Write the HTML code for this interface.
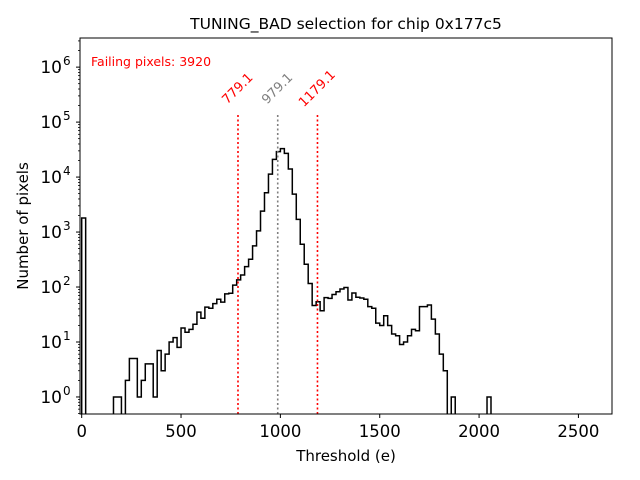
<!DOCTYPE html>
<html><head><meta charset="utf-8"><style>
body{margin:0;background:#fff}
svg{display:block;font-family:"DejaVu Sans","Liberation Sans",sans-serif}
</style></head><body>
<svg id="chart" width="640" height="480" xmlns="http://www.w3.org/2000/svg">
<rect width="640" height="480" fill="#fff"/>
<text x="346" y="29" text-anchor="middle" font-size="15.5">TUNING_BAD selection for chip 0x177c5</text>
<text x="346" y="461" text-anchor="middle" font-size="15">Threshold (e)</text>
<text transform="translate(28,226) rotate(-90)" text-anchor="middle" font-size="15">Number of pixels</text>
<text x="91" y="66" font-size="12.5" fill="#ff0000">Failing pixels: 3920</text>
<defs><clipPath id="pc"><rect x="80" y="38" width="532" height="376"/></clipPath></defs>
<g id="plot" clip-path="url(#pc)"></g>
<g id="axes"></g>
<rect x="80" y="38" width="532" height="376" fill="none" stroke="#000" stroke-width="1"/>
</svg>
<script>
const binWidth = 20;
const counts = [1800,0,0,0,0,0,0,0,1,1,0,2,5,5,1,2,4,4,1,7,3,6,10,12,8,18,15,17,21,35,27,43,41,50,60,53,75,77,108,135,165,235,320,560,1050,2400,5200,11300,21000,29000,33000,27000,14000,4900,1700,600,260,116,46,54,37,64,62,73,82,92,98,58,78,65,63,60,44,41,22,20,30,20,14,13,9,10,13,17,16,44,44,47,26,14,6,3,0,1,0,0,0,0,0,0,0,0,1];
const xTicks = [0,500,1000,1500,2000,2500];
const yTickExps = [0,1,2,3,4,5,6];
const vlines = [779.1, 979.1, 1179.1];
const vlineLabels = ["779.1","979.1","1179.1"];
const vlineColors = ["#ff0000","#808080","#ff0000"];

const X0=80, X1=612, Y0=414, Y1=38;
const xMin=-8.5, xMax=2669;
const lMin=-0.31, lMax=6.53;
const xs = v => X0 + (v-xMin)/(xMax-xMin)*(X1-X0);
const ys = v => Y0 - (Math.log10(v)-lMin)/(lMax-lMin)*(Y0-Y1);
const NS="http://www.w3.org/2000/svg";
const plot=document.getElementById('plot'), axes=document.getElementById('axes');
function mk(tag, attrs, parent){const e=document.createElementNS(NS,tag);for(const k in attrs)e.setAttribute(k,attrs[k]);parent.appendChild(e);return e;}

const yc = c => c>0 ? ys(c) : Y0+20;
let d = `M${xs(0)},${Y0+20}`;
counts.forEach((c,i)=>{ d += ` L${xs(i*binWidth)},${yc(c)} L${xs((i+1)*binWidth)},${yc(c)}`; });
d += ` L${xs(counts.length*binWidth)},${Y0+20}`;
const h = mk('path',{d:d,fill:'none',stroke:'#000','stroke-width':1.5},plot);



vlines.forEach((v,i)=>{
  const l = mk('line',{x1:xs(v)+1.5,x2:xs(v)+1.5,y1:Y0,y2:113,stroke:vlineColors[i],'stroke-width':1.6,'stroke-dasharray':'2,2.5'},axes);
  
  
  const t = mk('text',{transform:`translate(${xs(v)+1.5},89) rotate(-45)`,'text-anchor':'middle','dominant-baseline':'central','font-size':13,fill:vlineColors[i]},axes);
  t.textContent = vlineLabels[i];
  
  
});

xTicks.forEach(v=>{
  const tk = mk('line',{x1:xs(v),x2:xs(v),y1:Y0,y2:Y0+4,stroke:'#000'},axes);
  
  
  const t = mk('text',{x:xs(v),y:Y0+23,'text-anchor':'middle','font-size':16.5},axes);
  t.textContent = v;
  
  
});
yTickExps.forEach(e=>{
  const y = ys(Math.pow(10,e));
  const tk = mk('line',{x1:X0-4,x2:X0,y1:y,y2:y,stroke:'#000'},axes);
  
  
  const t = mk('text',{x:X0-18,y:y+6,'text-anchor':'end','font-size':17},axes);
  t.textContent = '10';
  
  
  const s = mk('text',{x:X0-17,y:y-2,'font-size':12},axes);
  s.textContent = e;
  
  
});
for(let e=-1;e<=6;e++){for(let m=2;m<10;m++){
  const v=m*Math.pow(10,e); const y=ys(v);
  if(y<Y1||y>Y0) continue;
  const tk = mk('line',{x1:X0-2,x2:X0,y1:y,y2:y,stroke:'#000','stroke-width':0.8},axes);
  
  
}}
</script>
</body></html>
